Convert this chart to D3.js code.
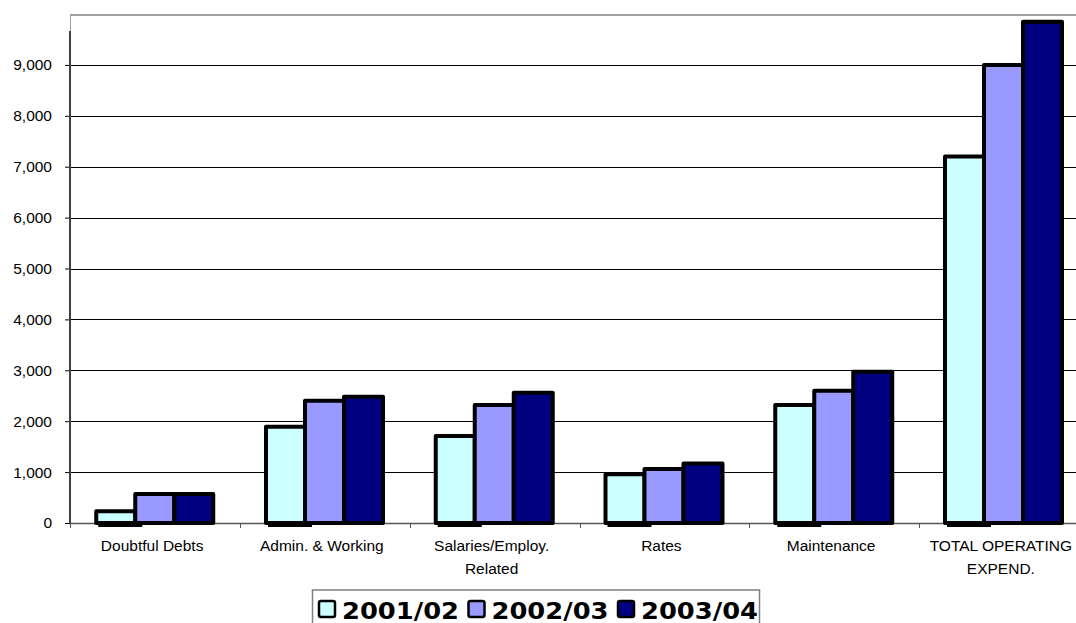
<!DOCTYPE html>
<html>
<head>
<meta charset="utf-8">
<script src="https://cdn.jsdelivr.net/npm/d3@7"></script>
<style>
  html, body { margin: 0; padding: 0; background: #fff; }
  svg { display: block; }
</style>
</head>
<body>
<svg id="chart" width="1076" height="623"></svg>
<script>
const categories = ["Doubtful Debts", "Admin. & Working", "Salaries/Employ. Related", "Rates", "Maintenance", "TOTAL OPERATING EXPEND."];
const categoryLines = [["Doubtful Debts"], ["Admin. & Working"], ["Salaries/Employ.", "Related"], ["Rates"], ["Maintenance"], ["TOTAL OPERATING", "EXPEND."]];
const seriesNames = ["2001/02", "2002/03", "2003/04"];
const values2001 = [230, 1890, 1710, 960, 2320, 7200];
const values2002 = [570, 2400, 2320, 1060, 2600, 9000];
const values2003 = [570, 2480, 2560, 1170, 2970, 9850];
const seriesColors = ["#CCFFFF", "#9999FF", "#000080"];
const yTicks = [0, 1000, 2000, 3000, 4000, 5000, 6000, 7000, 8000, 9000];

const seriesValues = [values2001, values2002, values2003];
const svg = d3.select("#chart");

const left = 70.25, band = 169.75, bottom = 523, plotTop = 15;
const x = d3.scaleBand().domain(categories).range([left, left + band * categories.length]).paddingInner(0).paddingOuter(0);
const xs = d3.scaleBand().domain(seriesNames).range([26, 143]);
const y = d3.scaleLinear().domain([0, 10000]).range([bottom, 14]);
const fmt = d3.format(",");

// plot area top border
svg.append("line").attr("x1", 70).attr("x2", 1076).attr("y1", plotTop).attr("y2", plotTop)
  .attr("stroke", "#a0a0a0").attr("stroke-width", 2);
svg.append("line").attr("x1", 70.5).attr("x2", 70.5).attr("y1", plotTop).attr("y2", 31)
  .attr("stroke", "#a0a0a0").attr("stroke-width", 1);

// gridlines
svg.append("g").selectAll("line").data(yTicks.filter(d => d > 0)).join("line")
  .attr("x1", 70).attr("x2", 1076)
  .attr("y1", d => Math.round(y(d)) + 0.5).attr("y2", d => Math.round(y(d)) + 0.5)
  .attr("stroke", "#000").attr("stroke-width", 1);

// y axis
const yAxis = d3.axisLeft(y).tickValues(yTicks).tickFormat(fmt).tickSize(5).tickPadding(13);
const gy = svg.append("g").attr("transform", "translate(70,0)").call(yAxis);
gy.select(".domain").remove();
gy.selectAll(".tick line").attr("stroke", "#000");
gy.selectAll(".tick text").attr("font-family", "'Liberation Sans', Arial, sans-serif")
  .attr("font-size", "15.5px").attr("fill", "#000");
svg.append("line").attr("x1", 70).attr("x2", 70).attr("y1", 31).attr("y2", bottom)
  .attr("stroke", "#404040").attr("stroke-width", 2);

// x axis
svg.append("line").attr("x1", 70).attr("x2", 1076).attr("y1", bottom + 0.5).attr("y2", bottom + 0.5)
  .attr("stroke", "#555").attr("stroke-width", 1.5);
const boundaries = categories.map(c => x(c)).concat([x(categories[categories.length - 1]) + band]);
svg.append("g").selectAll("line").data(boundaries).join("line")
  .attr("x1", d => Math.round(d) + 0.5).attr("x2", d => Math.round(d) + 0.5)
  .attr("y1", bottom).attr("y2", bottom + 5)
  .attr("stroke", "#555").attr("stroke-width", 1);

// category labels
const labels = svg.append("g").attr("font-family", "'Liberation Sans', Arial, sans-serif")
  .attr("font-size", "15.5px").attr("fill", "#000").attr("text-anchor", "middle");
categories.forEach((c, i) => {
  const cx = x(c) + band / 2 - 3;
  const t = labels.append("text").attr("x", cx).attr("y", 551);
  categoryLines[i].forEach((ln, j) => {
    t.append("tspan").attr("x", cx).attr("y", 551 + j * 23).text(ln);
  });
});

// base marks under first bar of each group
svg.append("g").selectAll("rect").data(categories).join("rect")
  .attr("x", c => x(c) + xs(seriesNames[0]) + 2)
  .attr("y", bottom - 1)
  .attr("width", 44)
  .attr("height", 5)
  .attr("fill", "#000");

// bars
const gBars = svg.append("g");
seriesNames.forEach((s, si) => {
  gBars.append("g").selectAll("rect").data(categories).join("rect")
    .attr("x", c => x(c) + xs(s))
    .attr("y", (c, i) => y(seriesValues[si][i]))
    .attr("width", xs.bandwidth())
    .attr("height", (c, i) => y(0) - y(seriesValues[si][i]))
    .attr("fill", seriesColors[si])
    .attr("stroke", "#000")
    .attr("stroke-width", 4)
    .attr("stroke-linejoin", "round");
});

// legend
const lg = svg.append("g");
lg.append("rect").attr("x", 312.5).attr("y", 590).attr("width", 447).attr("height", 40)
  .attr("fill", "#fff").attr("stroke", "#808080").attr("stroke-width", 1.5);
const legendX = d3.scalePoint().domain(seriesNames).range([319, 618]);
seriesNames.forEach((s, i) => {
  const lx = legendX(s);
  lg.append("rect").attr("x", lx).attr("y", 601).attr("width", 16).attr("height", 16)
    .attr("rx", 2).attr("fill", seriesColors[i]).attr("stroke", "#000").attr("stroke-width", 2.5);
  lg.append("text").attr("x", lx + 23).attr("y", 619)
    .attr("font-family", "'DejaVu Sans', Verdana, sans-serif").attr("font-weight", "bold")
    .attr("font-size", "23px").attr("fill", "#000")
    .attr("textLength", 117).attr("lengthAdjust", "spacingAndGlyphs")
    .text(s);
});
</script>
</body>
</html>
